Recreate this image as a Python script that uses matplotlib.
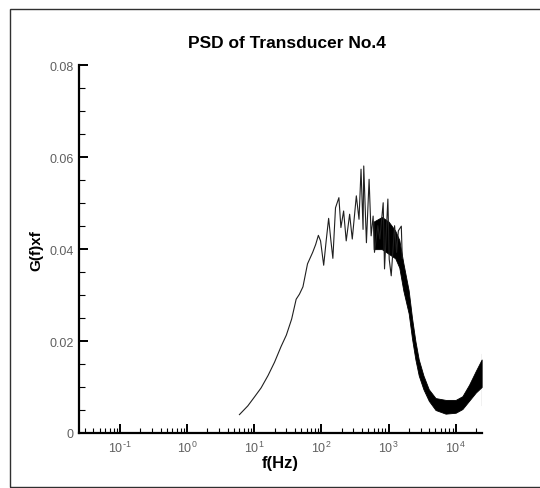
import matplotlib
matplotlib.use("Agg")
import matplotlib.pyplot as plt
from matplotlib.ticker import (LogLocator, FixedLocator, MultipleLocator,
                               FuncFormatter, NullFormatter)
from matplotlib.patches import Rectangle

plt.rcParams['font.family'] = ['Liberation Sans', 'DejaVu Sans']
plt.rcParams['mathtext.default'] = 'regular'

# Sparse low/mid-frequency part of the spectrum (Hz, G(f)*f)
freq_line = [6.0, 8.0, 10.0, 12.6, 16.0, 20.0, 25.0, 30.0, 36.0, 42.0, 47.0, 53.0,
             62.0, 74.0, 82.0, 90.0, 97.0, 108.0, 118.0, 128.0, 138.0, 148.0, 162.0,
             182.0, 195.0, 214.0, 234.0, 263.0, 288.0, 331.0, 363.0, 389.0, 417.0,
             427.0, 468.0, 513.0, 550.0, 589.0, 617.0, 692.0, 741.0, 832.0, 871.0,
             977.0, 1023.0, 1096.0, 1230.0, 1318.0, 1400.0, 1549.0, 1600.0]
gf_line = [0.0040, 0.0059, 0.0078, 0.0098, 0.0125, 0.0154, 0.0188, 0.0213, 0.0248,
           0.0291, 0.0302, 0.0318, 0.0368, 0.0393, 0.0410, 0.0430, 0.0418, 0.0365,
           0.0420, 0.0467, 0.0420, 0.0380, 0.0490, 0.0512, 0.0447, 0.0483, 0.0418,
           0.0476, 0.0422, 0.0516, 0.0465, 0.0574, 0.0443, 0.0581, 0.0414, 0.0552,
           0.0429, 0.0472, 0.0393, 0.0451, 0.0422, 0.0501, 0.0357, 0.0509, 0.0378,
           0.0342, 0.0451, 0.0393, 0.0440, 0.0450, 0.0380]

# Dense high-frequency part: lower / upper envelope of the spectral scatter
freq_band = [600.0, 794.0, 1000.0, 1259.0, 1445.0, 1660.0, 1995.0, 2239.0, 2512.0,
             2818.0, 3311.0, 3981.0, 5012.0, 7079.0, 10000.0, 12589.0, 15849.0,
             19953.0, 24400.0]
gf_lo = [0.0400, 0.0400, 0.0390, 0.0380, 0.0360, 0.0310, 0.0260, 0.0205, 0.0160,
         0.0125, 0.0095, 0.0070, 0.0050, 0.0042, 0.0044, 0.0052, 0.0070, 0.0088,
         0.0100]
gf_hi = [0.0460, 0.0470, 0.0460, 0.0440, 0.0420, 0.0370, 0.0310, 0.0250, 0.0200,
         0.0160, 0.0125, 0.0095, 0.0076, 0.0072, 0.0072, 0.0080, 0.0105, 0.0135,
         0.0160]

# Last spectral line at the Nyquist end
freq_end = [24400.0, 24400.0]
gf_end = [0.0060, 0.0172]

# Decade ticks on the frequency axis
x_major = [0.1, 1.0, 10.0, 100.0, 1000.0, 10000.0]
x_exponents = [-1, 0, 1, 2, 3, 4]


def decade_label(v, pos):
    e = x_exponents[x_major.index(v)] if v in x_major else 0
    exp_txt = r'\text{-}%d' % abs(e) if e < 0 else '%d' % e
    return r'$10^{%s}$' % exp_txt


fig = plt.figure(figsize=(5.40, 4.89), dpi=100)
ax = fig.add_axes([0.1463, 0.1125, 0.7457, 0.7519])

ax.plot(freq_line, gf_line, color='#202020', lw=0.8)
ax.fill_between(freq_band, gf_lo, gf_hi, color='black', lw=0.6, edgecolor='black')
ax.plot(freq_end, gf_end, color='black', lw=0.8)

ax.set_xscale('log')
ax.set_xlim(0.0244, 24420)
ax.set_ylim(0, 0.08)

ax.xaxis.set_major_locator(FixedLocator(x_major))
ax.xaxis.set_major_formatter(FuncFormatter(decade_label))
ax.xaxis.set_minor_locator(LogLocator(base=10, subs=range(2, 10), numticks=100))
ax.xaxis.set_minor_formatter(NullFormatter())
ax.yaxis.set_major_locator(MultipleLocator(0.02))
ax.yaxis.set_minor_locator(MultipleLocator(0.005))
ax.yaxis.set_major_formatter(FuncFormatter(lambda v, p: '%g' % v))

for s in ('top', 'right'):
    ax.spines[s].set_visible(False)
for s in ('left', 'bottom'):
    ax.spines[s].set_linewidth(1.6)

ax.tick_params(axis='both', which='both', direction='in', colors='black',
               labelcolor='#606060', labelsize=9)
ax.tick_params(axis='x', which='major', length=6.5, width=1.4, pad=5)
ax.tick_params(axis='x', which='minor', length=3.6, width=0.8)
ax.tick_params(axis='y', which='major', length=6.5, width=1.4, pad=4)
ax.tick_params(axis='y', which='minor', length=4.3, width=0.8)

ax.set_title('PSD of Transducer No.4', fontsize=12.5, fontweight='bold', pad=13,
             x=0.517)
ax.set_xlabel('f(Hz)', fontsize=12, fontweight='bold', labelpad=0)
ax.set_ylabel('G(f)xf', fontsize=11, fontweight='bold', labelpad=4)

# Frame around the whole plot
fig.patches.append(Rectangle((10 / 540, 1 - 488 / 489), 1.2, (488 - 9.5) / 489,
                             transform=fig.transFigure, fill=False,
                             edgecolor='#303030', lw=1.0))

fig.savefig('out.png', dpi=100)
